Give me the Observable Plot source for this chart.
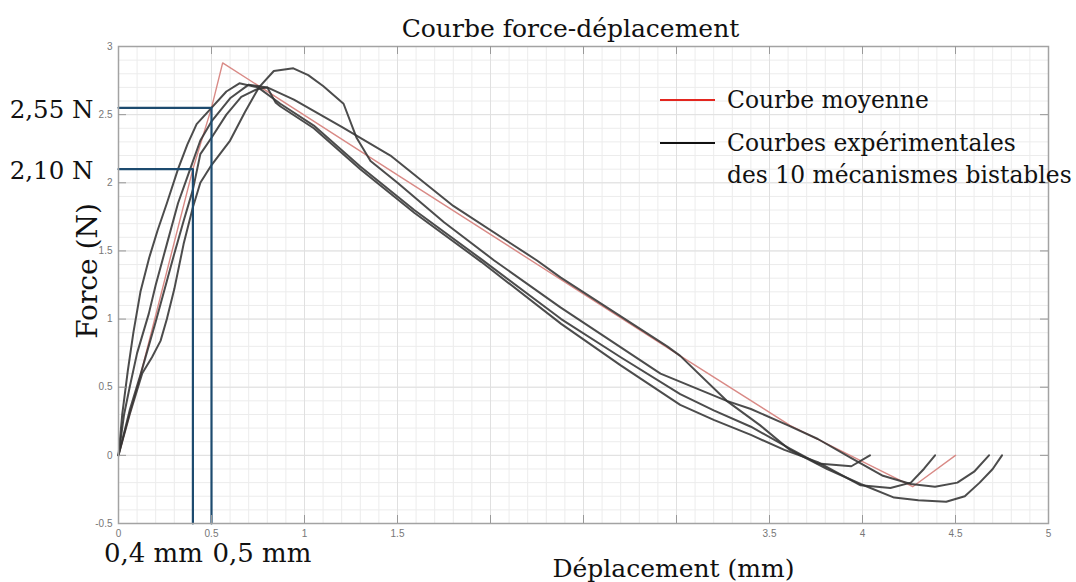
<!DOCTYPE html>
<html><head><meta charset="utf-8">
<script src="https://cdn.jsdelivr.net/npm/d3@7"></script>
<script src="https://cdn.jsdelivr.net/npm/@observablehq/plot@0.6"></script>
<style>
body{margin:0;background:#fff;}
#wrap{position:relative;width:1076px;height:582px;font-family:"DejaVu Serif",serif;color:#111;}
.leg{position:absolute;font-size:23.4px;white-space:nowrap;}
.sw{position:absolute;height:2px;width:55px;}
</style></head><body><div id="wrap"></div>
<script>
// ---- data ----
const meanX = [0, 0.12, 0.4, 0.5, 0.56, 1.52, 3.02, 3.61, 4.27, 4.5];
const meanY = [0, 0.6, 2.10, 2.55, 2.88, 2.04, 0.73, 0.22, -0.23, 0];

const curveAX = [0,0.06,0.127,0.18,0.226,0.26,0.3,0.35,0.4,0.44,0.5,0.6,0.68,0.755,0.835,0.94,1.02,1.1,1.21,1.28,1.355,1.5,1.75,2.02,2.376,2.914,3.27,3.4,3.6,3.76,3.94,4.11,4.26,4.39,4.51,4.6,4.68];
const curveAY = [0,0.3,0.6,0.72,0.84,1.0,1.22,1.55,1.82,2.0,2.13,2.31,2.52,2.70,2.82,2.84,2.79,2.71,2.58,2.33,2.16,2.0,1.71,1.43,1.086,0.60,0.40,0.34,0.22,0.12,-0.02,-0.15,-0.21,-0.23,-0.20,-0.12,0];

const curveBX = [0,0.03,0.06,0.1,0.163,0.2,0.26,0.32,0.38,0.44,0.5,0.6,0.7,0.8,0.943,1.2,1.462,1.8,2.25,2.376,2.95,3.02,3.27,3.45,3.61,3.81,3.99,4.17,4.3,4.45,4.55,4.63,4.7,4.75];
const curveBY = [0,0.3,0.5,0.75,1.04,1.25,1.55,1.85,2.08,2.31,2.45,2.62,2.72,2.70,2.61,2.41,2.20,1.83,1.43,1.306,0.80,0.73,0.40,0.22,0.04,-0.10,-0.21,-0.31,-0.33,-0.34,-0.30,-0.20,-0.10,0];

const curveCX = [0,0.02,0.05,0.08,0.118,0.165,0.21,0.26,0.32,0.37,0.42,0.5,0.58,0.65,0.75,0.87,1.05,1.3,1.59,1.95,2.38,2.7,3.02,3.2,3.4,3.61,3.76,3.94,4.04];
const curveCY = [0,0.3,0.62,0.9,1.2,1.45,1.65,1.85,2.1,2.28,2.43,2.55,2.67,2.73,2.70,2.58,2.42,2.12,1.80,1.44,1.0,0.72,0.45,0.33,0.21,0.05,-0.06,-0.08,0];

const curveDX = [0,0.06,0.12,0.2,0.26,0.3,0.35,0.4,0.44,0.5,0.58,0.66,0.75,0.8,0.844,0.871,1.05,1.3,1.59,1.95,2.38,2.7,3.02,3.2,3.4,3.58,3.76,3.99,4.15,4.26,4.33,4.39];
const curveDY = [0,0.33,0.6,0.98,1.28,1.48,1.72,1.95,2.21,2.33,2.5,2.63,2.69,2.70,2.59,2.56,2.40,2.10,1.78,1.42,0.965,0.66,0.37,0.26,0.15,0.04,-0.05,-0.22,-0.24,-0.2,-0.1,0];

const refX = [0.4, 0.5];
const refY = [2.10, 2.55];
const refYLabels = ["2,10 N", "2,55 N"];
const refXLabels = ["0,4 mm", "0,5 mm"];

const xTicks = [0.5,1,1.5,2,2.5,3,3.5,4,4.5];
const xTickLabels = [0,0.5,1,1.5,3.5,4,4.5,5];
const yTicks = [0,0.5,1,1.5,2,2.5];
const yTickLabels = [-0.5,0,0.5,1,1.5,2,2.5,3];

const title = "Courbe force-déplacement";
const xLabel = "Déplacement (mm)";
const yLabel = "Force (N)";
const legendItems = [
  {label:"Courbe moyenne", color:"#e3261f"},
  {label:"Courbes expérimentales<br>des 10 mécanismes bistables", color:"#111"}
];

// ---- build tables ----
const zip = (xs, ys, s) => xs.map((x,i)=>({x, y:ys[i], s}));
const exp = [
  ...zip(curveAX, curveAY, "A"),
  ...zip(curveBX, curveBY, "B"),
  ...zip(curveCX, curveCY, "C"),
  ...zip(curveDX, curveDY, "D")
];
const mean = zip(meanX, meanY, "mean");
const yMin = -0.5;
const refPaths = refX.flatMap((x,i)=>[
  {x:0, y:refY[i], s:i},{x, y:refY[i], s:i},{x, y:yMin, s:i}
]);
const refYText = refY.map((y,i)=>({y, t:refYLabels[i]}));

const W=1076,H=582,mL=118,mR=28,mT=46,mB=59;
const fH=H-mT-mB, fW=W-mL-mR;
const serif = "DejaVu Serif";
const sans = "Liberation Sans";

const chart = Plot.plot({
  width:W, height:H,
  marginLeft:mL, marginRight:mR, marginTop:mT, marginBottom:mB,
  style:{fontFamily:serif, background:"white", overflow:"visible"},
  x:{domain:[0,5], label:null},
  y:{domain:[-0.5,3], label:null},
  marks:[
    Plot.gridX(d3.range(0.1,5,0.1),{stroke:"#ececec", strokeOpacity:1}),
    Plot.gridY(d3.range(-0.4,3,0.1),{stroke:"#ececec", strokeOpacity:1}),
    Plot.gridX(xTicks,{stroke:"#e0e0e0", strokeOpacity:1}),
    Plot.gridY(yTicks,{stroke:"#e0e0e0", strokeOpacity:1}),
    Plot.line(mean,{x:"x", y:"y", stroke:"#d98a86", strokeWidth:1.4}),
    Plot.line(exp,{x:"x", y:"y", z:"s", stroke:"#333", strokeOpacity:0.88, strokeWidth:2}),
    Plot.line(refPaths,{x:"x", y:"y", z:"s", stroke:"#1d4b6f", strokeWidth:2.2}),
    Plot.frame({stroke:"#a3a3a3", strokeWidth:1.5}),
    Plot.ruleX(xTicks,{insetTop:fH-8, stroke:"#999"}),
    Plot.ruleX(xTicks,{insetBottom:fH-8, stroke:"#999"}),
    Plot.ruleY(yTicks,{insetRight:fW-8, stroke:"#999"}),
    Plot.ruleY(yTicks,{insetLeft:fW-8, stroke:"#999"}),
    Plot.axisX(xTickLabels,{anchor:"bottom", tickSize:0, tickPadding:6, fontSize:10, fill:"#777", fontFamily:sans, label:null, tickFormat:d=>String(d)}),
    Plot.axisY(yTickLabels,{anchor:"left", tickSize:0, tickPadding:6, fontSize:10, fill:"#777", fontFamily:sans, label:null, tickFormat:d=>String(d)}),
    Plot.text([title],{frameAnchor:"top", dx:-13, dy:-27, fontSize:25, fill:"#111"}),
    Plot.text([xLabel],{frameAnchor:"bottom", dx:90, dy:53, fontSize:25, fill:"#111"}),
    Plot.text([yLabel],{frameAnchor:"left", textAnchor:"middle", dx:-30, dy:-14, rotate:-90, fontSize:28, fill:"#111"}),
    Plot.text(refYText,{x:0, y:"y", text:"t", textAnchor:"end", dx:-25, dy:2, fontSize:24.5, fill:"#111"}),
    Plot.text([refX[0]],{x:d=>d, text:()=>refXLabels[0], frameAnchor:"bottom", textAnchor:"end", dx:10, dy:38, fontSize:26, fill:"#111"}),
    Plot.text([refX[1]],{x:d=>d, text:()=>refXLabels[1], frameAnchor:"bottom", textAnchor:"start", dx:1, dy:38, fontSize:26, fill:"#111"})
  ]
});
const wrap = document.getElementById("wrap");
wrap.appendChild(chart);

// legend overlay
const tops = [{line:99, text:84}, {line:142, text:127}];
legendItems.forEach((it,i)=>{
  const sw=document.createElement("div"); sw.className="sw";
  sw.style.left="660px"; sw.style.top=tops[i].line+"px"; sw.style.background=it.color;
  wrap.appendChild(sw);
  const tx=document.createElement("div"); tx.className="leg";
  tx.style.left="727px"; tx.style.top=tops[i].text+"px"; tx.style.lineHeight="32px";
  tx.innerHTML=it.label;
  wrap.appendChild(tx);
});
</script></body></html>
